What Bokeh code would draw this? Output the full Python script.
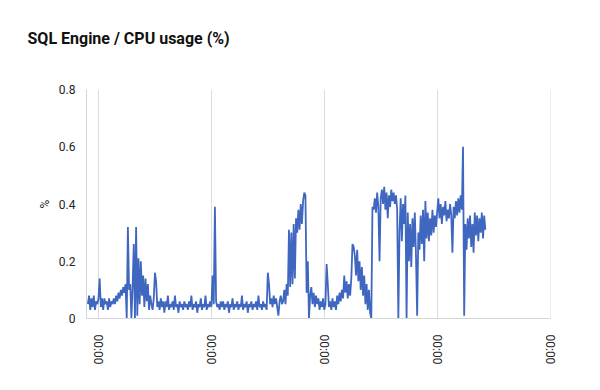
import math
import pandas as pd
from bokeh.plotting import figure
from bokeh.models import FixedTicker, DatetimeTickFormatter, Title, Range1d
from bokeh.embed import file_html
from bokeh.resources import INLINE

title_text = "SQL Engine / CPU usage (%)"
y_label = "%"
y_ticks = [0, 0.2, 0.4, 0.6, 0.8]
y_tick_labels = ["0", "0.2", "0.4", "0.6", "0.8"]
x_tick_days = ["2020-06-02", "2020-06-03", "2020-06-04", "2020-06-05", "2020-06-06"]
x_tick_format = "%H:%M"
start_time = "2020-06-01 21:45"
sample_freq = "15min"

cpu_usage = [
    0.05, 0.08, 0.03, 0.07, 0.04, 0.08, 0.03, 0.06, 0.05, 0.07, 0.14, 0.04, 0.07, 0.03, 0.07, 0.05, 0.06, 0.03, 0.07, 0.04, 0.06, 0.05, 0.07,
    0.05, 0.08, 0.06, 0.09, 0.07, 0.10, 0.08, 0.11, 0.09, 0.12,
    0.0, 0.32, 0.10, 0.12, 0.0, 0.11, 0.26, 0.0, 0.32, 0.01, 0.21, 0.05, 0.20, 0.08, 0.15, 0.04, 0.14, 0.06, 0.12, 0.03, 0.08,
    0.05, 0.03, 0.07, 0.16, 0.13, 0.04, 0.06, 0.03, 0.07, 0.04, 0.06, 0.02, 0.06, 0.04, 0.08, 0.03, 0.05, 0.04, 0.06, 0.03,
    0.08, 0.04, 0.05, 0.02, 0.06, 0.04, 0.05, 0.03, 0.06, 0.04, 0.05, 0.03, 0.06, 0.04, 0.08, 0.03, 0.05, 0.04, 0.06, 0.02,
    0.05, 0.04, 0.07, 0.03, 0.05, 0.04, 0.08, 0.03, 0.05, 0.04, 0.06,
    0.04, 0.15, 0.05, 0.39, 0.06, 0.04,
    0.05, 0.03, 0.06, 0.04, 0.06, 0.03, 0.05, 0.04, 0.06, 0.02, 0.05, 0.04, 0.07, 0.03, 0.05, 0.04, 0.06, 0.03, 0.05, 0.04,
    0.08, 0.03, 0.05, 0.04, 0.06, 0.02, 0.05, 0.04, 0.06, 0.03, 0.05, 0.04, 0.06, 0.03, 0.08, 0.04, 0.05, 0.03, 0.06, 0.04,
    0.05, 0.03,
    0.16, 0.12, 0.05,
    0.07, 0.04, 0.08, 0.05, 0.07, 0.04, 0.01, 0.06, 0.08, 0.05,
    0.06, 0.10, 0.05, 0.12, 0.08, 0.31, 0.11, 0.30, 0.12, 0.33, 0.14, 0.35, 0.30, 0.38, 0.31, 0.40, 0.33, 0.41, 0.44, 0.43,
    0.09, 0.20, 0.0,
    0.08, 0.11, 0.05, 0.09, 0.04, 0.08, 0.05, 0.07, 0.03, 0.06, 0.04, 0.07, 0.03,
    0.05, 0.19, 0.12, 0.04,
    0.06, 0.03, 0.07, 0.04, 0.06, 0.03, 0.08, 0.05, 0.09, 0.06, 0.10,
    0.07, 0.15, 0.09, 0.13, 0.07, 0.12, 0.08, 0.14,
    0.26, 0.25, 0.22, 0.15, 0.24, 0.13, 0.20, 0.10, 0.18, 0.08, 0.15, 0.05, 0.12, 0.03, 0.10, 0.02, 0.0, 0.39,
    0.38, 0.42, 0.37, 0.44, 0.39, 0.20, 0.42, 0.45, 0.40, 0.46, 0.38, 0.44, 0.35, 0.43, 0.39, 0.45, 0.41, 0.44, 0.40, 0.43,
    0.38, 0.0,
    0.30, 0.42, 0.27, 0.40, 0.33, 0.43, 0.0,
    0.37, 0.20, 0.33, 0.18, 0.35, 0.25, 0.37, 0.22, 0.01,
    0.30, 0.24, 0.36, 0.26, 0.38, 0.20, 0.41, 0.28, 0.37, 0.27, 0.35, 0.29, 0.38, 0.30, 0.36, 0.32, 0.37,
    0.42, 0.35, 0.40, 0.33, 0.39, 0.36, 0.41, 0.34, 0.38, 0.35, 0.40, 0.36, 0.23, 0.39, 0.35, 0.41, 0.36, 0.42, 0.37, 0.43,
    0.38,
    0.60, 0.01,
    0.33, 0.24, 0.35, 0.28, 0.36, 0.25, 0.33, 0.23, 0.37, 0.29, 0.36, 0.27, 0.35, 0.30, 0.37, 0.28, 0.36, 0.31,
]

times = pd.date_range(start_time, periods=len(cpu_usage), freq=sample_freq)
tick_ms = [pd.Timestamp(d).value // 10**6 for d in x_tick_days]

x_start = pd.Timestamp(x_tick_days[0]) - pd.Timedelta(minutes=153)
x_end = pd.Timestamp(x_tick_days[-1]) + pd.Timedelta(minutes=6)

FONT = "Roboto"

p = figure(width=592, height=382, x_axis_type="datetime", output_backend="svg",
           toolbar_location=None, title=None,
           x_range=Range1d(x_start, x_end), y_range=Range1d(0, 0.8),
           min_border_left=86, min_border_right=42, min_border_top=88, min_border_bottom=64)
p.outline_line_color = None
p.background_fill_color = "white"
p.border_fill_color = "white"

p.line(times, cpu_usage, line_color="#3f67c0", line_width=1.8)

# x axis
xa = p.xaxis[0]
xa.ticker = FixedTicker(ticks=tick_ms)
fmt = x_tick_format
xa.formatter = DatetimeTickFormatter(microseconds=fmt, milliseconds=fmt, seconds=fmt, minsec=fmt,
                                     minutes=fmt, hourmin=fmt, hours=fmt, days=fmt, months=fmt, years=fmt)
xa.major_label_orientation = -math.pi / 2
xa.major_tick_line_color = None
xa.minor_tick_line_color = None
xa.major_tick_out = 0
xa.major_tick_in = 0
xa.major_label_standoff = 16
xa.axis_line_color = "#d6d6d6"
xa.major_label_text_font = FONT
xa.major_label_text_font_size = "12px"
xa.major_label_text_color = "#222222"

# y axis
ya = p.yaxis[0]
ya.ticker = FixedTicker(ticks=y_ticks)
ya.major_label_overrides = {t: l for t, l in zip(y_ticks, y_tick_labels)}
ya.major_tick_line_color = None
ya.minor_tick_line_color = None
ya.major_tick_out = 0
ya.major_tick_in = 0
ya.major_label_standoff = 11
ya.axis_line_color = "#d6d6d6"
ya.major_label_text_font = FONT
ya.major_label_text_font_size = "12px"
ya.major_label_text_color = "#222222"
ya.axis_label = y_label
ya.axis_label_standoff = 4
ya.axis_label_text_font = FONT
ya.axis_label_text_font_style = "normal"
ya.axis_label_text_font_size = "12px"
ya.axis_label_text_color = "#222222"

p.xgrid.grid_line_color = "#dcdcdc"
p.ygrid.grid_line_color = None

# spacer panel between the frame and the title
spacer = Title(text=" ", text_font_size="1px", standoff=13)
p.add_layout(spacer, "above")
title = Title(text=title_text, align="left", offset=-59, standoff=52,
              text_font=FONT, text_font_size="16px", text_font_style="bold",
              text_color="#111111")
p.add_layout(title, "above")

open("out.html", "w").write(file_html(p, INLINE))
